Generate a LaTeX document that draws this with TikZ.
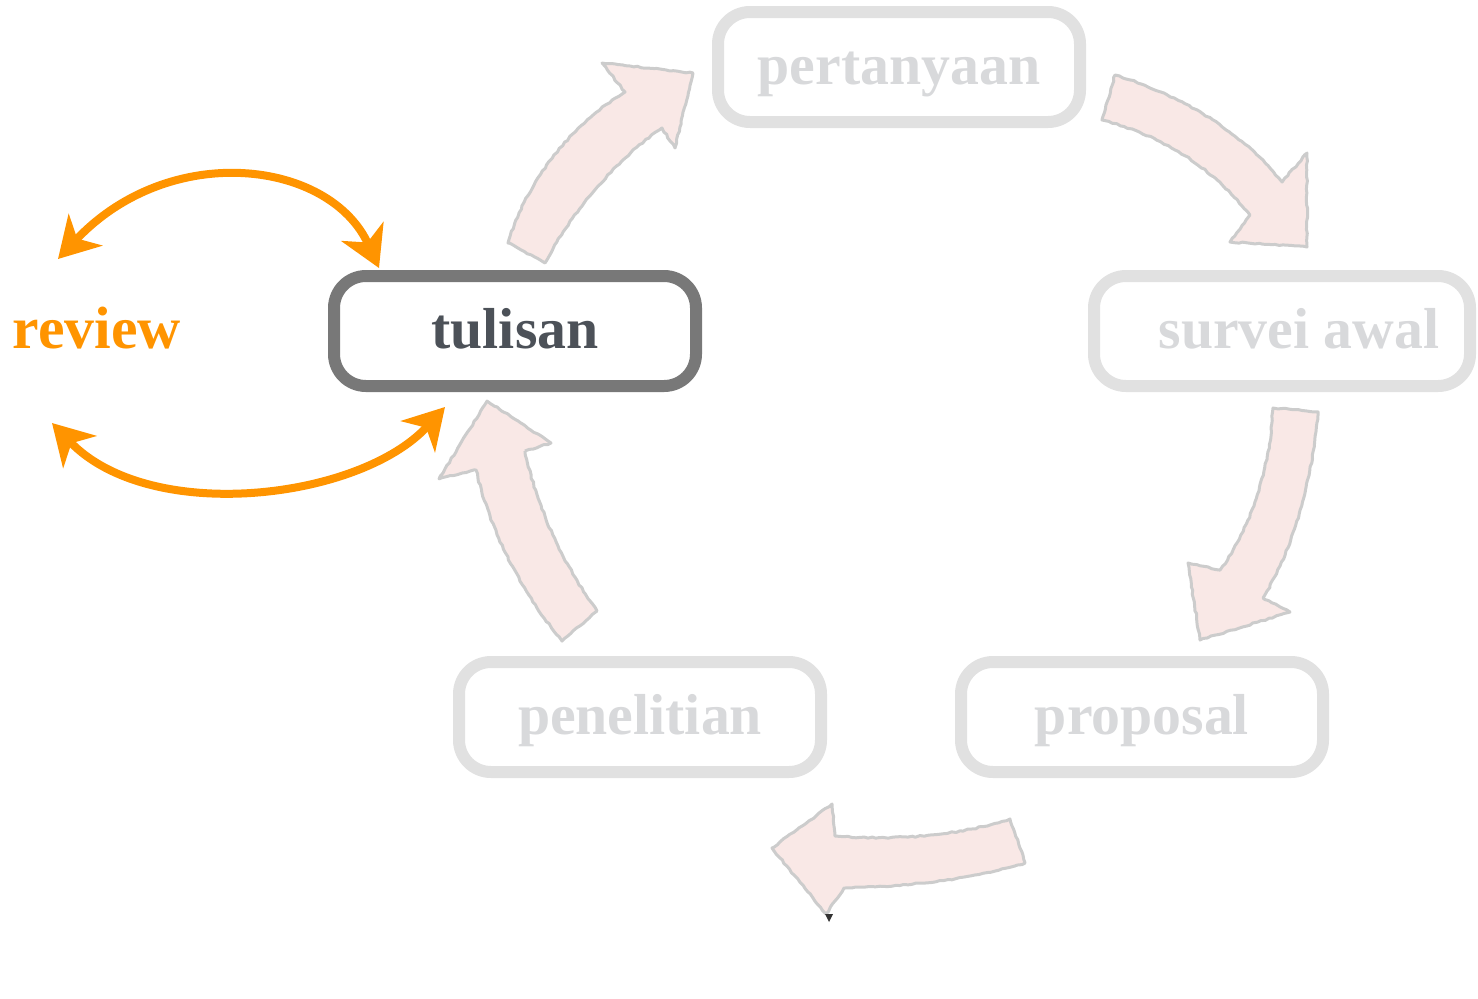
\documentclass[tikz,border=0pt]{standalone}
\usepackage{fontspec}
\setmainfont{Liberation Serif}
\usetikzlibrary{arrows.meta,decorations.pathmorphing}
\definecolor{boxgray}{HTML}{E1E1E1}
\definecolor{txtgray}{HTML}{D8D9DB}
\definecolor{darkbox}{HTML}{787878}
\definecolor{darktxt}{HTML}{4C5158}
\definecolor{revorange}{HTML}{FF9400}
\definecolor{pinkfill}{HTML}{F9E8E6}
\definecolor{pinkline}{HTML}{CCCCCC}
\begin{document}
\begin{tikzpicture}[x=1bp,y=-1bp,
  stagebox/.style={draw=boxgray, line width=12bp, rounded corners=32bp,
    minimum width=362bp, minimum height=110bp, text=txtgray,
    font=\bfseries\fontsize{58}{60}\selectfont,
    text height=40bp, text depth=6bp, inner sep=0pt},
  activebox/.style={stagebox, draw=darkbox, text=darktxt},
  revlabel/.style={text=revorange, font=\bfseries\fontsize{60}{62}\selectfont,
    text height=40bp, text depth=6bp, inner sep=0pt},
  revarrow/.style={draw=revorange, line width=8bp,
    {Stealth[length=40bp,width=46bp,inset=12bp]}-{Stealth[length=40bp,width=46bp,inset=12bp]}},
  blockarrow/.style={fill=pinkfill, draw=pinkline, line width=3bp, line join=round,
    decorate, decoration={random steps, segment length=4bp, amplitude=0.7bp}}
]
\useasboundingbox (0,0) rectangle (1478,998);

% pink block arrows
\path[blockarrow] (508,243) .. controls (525,185) and (570,125) .. (625,92) -- (602,63) -- (693,73) -- (675,148) -- (662,128) .. controls (615,160) and (570,215) .. (545,263) -- cycle;
\path[blockarrow] (1115,75) .. controls (1180,95) and (1240,130) .. (1282,182) -- (1307,153) -- (1307,247) -- (1230,242) -- (1250,215) .. controls (1210,165) and (1160,135) .. (1102,120) -- cycle;
\path[blockarrow] (1273,408) .. controls (1270,470) and (1250,530) .. (1220,570) -- (1188,563) -- (1200,640) -- (1290,612) -- (1263,598) .. controls (1295,545) and (1312,480) .. (1318,412) -- cycle;
\path[blockarrow] (1010,819) .. controls (950,838) and (890,840) .. (835,836) -- (832,804) -- (772,848) -- (826,914) -- (844,888) .. controls (910,886) and (970,880) .. (1025,863) -- cycle;
\path[blockarrow] (525,451) -- (551,443) -- (487,401) -- (439,479) -- (476,470) .. controls (490,530) and (520,590) .. (562,641) -- (597,611) .. controls (560,560) and (535,500) .. (525,451) -- cycle;
\fill[black!80] (825,914) -- (833,914) -- (829,922) -- cycle;

% boxes
\node[stagebox] (pertanyaan) at (899,67) {pertanyaan};
\node[stagebox, minimum width=376bp] (survei) at (1282,331) {\hspace*{34bp}survei awal};
\node[stagebox] (proposal) at (1142,717) {proposal};
\node[stagebox] (penelitian) at (640,717) {penelitian};
\node[activebox] (tulisan) at (515,331) {tulisan};
\node[revlabel] (review) at (97,331) {review};

% orange review arrows
\coordinate (tA) at (379,268);
\coordinate (rA) at (58,259);
\coordinate (tB) at (445,407);
\coordinate (rB) at (52,423);
\draw[revarrow] (tA) .. controls (330,160) and (170,140) .. (rA);
\draw[revarrow] (tB) .. controls (360,500) and (150,525) .. (rB);
\end{tikzpicture}
\end{document}
